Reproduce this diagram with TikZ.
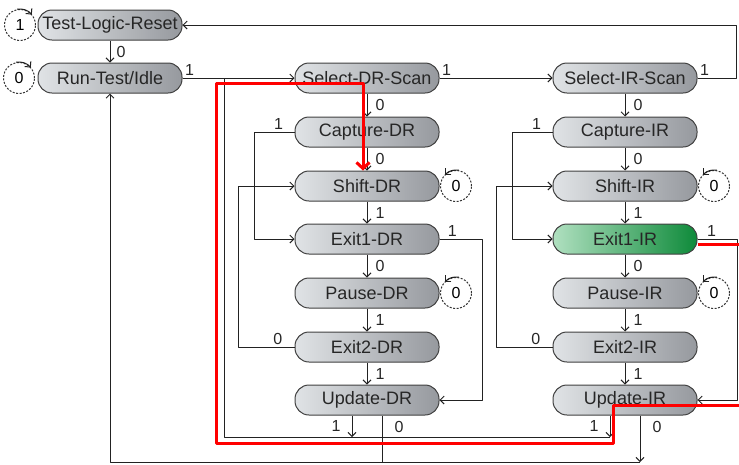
\documentclass[tikz,border=0pt]{standalone}
\usepackage{fontspec}
\setmainfont{Liberation Sans}
\usetikzlibrary{arrows.meta}

\definecolor{nodeL}{HTML}{E0E3E6}
\definecolor{nodeR}{HTML}{96999E}
\definecolor{greenL}{HTML}{B0E0C0}
\definecolor{greenR}{HTML}{0E8A3A}
\definecolor{lineC}{HTML}{222222}

\tikzset{
  jstate/.style={draw=black!75, rounded corners=14pt, minimum width=144pt,
    minimum height=30pt, inner sep=0pt, left color=nodeL, right color=nodeR,
    text=black!85, font=\fontsize{18}{21}\selectfont},
  jactive/.style={jstate, left color=greenL, right color=greenR},
  loopc/.style={draw=black!80, dash pattern=on 2pt off 1.5pt, circle,
    minimum size=31pt, inner sep=0pt, font=\fontsize{16}{19}\selectfont},
  lbl/.style={font=\fontsize{16}{19}\selectfont, inner sep=2pt, text=black!85},
  hl/.style={red, line width=3pt},
}

\begin{document}
\begin{tikzpicture}[x=1pt, y=-1pt, line join=round, line width=1pt, draw=lineC,
    >={Straight Barb[length=4pt,width=8pt]}]
    \useasboundingbox (0,0) rectangle (739,464);

    % 左列状态
    \node[jstate] (tlr) at (110,25) {Test-Logic-Reset};
    \node[jstate] (rti) at (110,78) {Run-Test/Idle};

    % DR 列
    \node[jstate] (sdr)  at (367,78)  {Select-DR-Scan};
    \node[jstate] (cdr)  at (367,132) {Capture-DR};
    \node[jstate] (shdr) at (367,186) {Shift-DR};
    \node[jstate] (e1dr) at (367,239) {Exit1-DR};
    \node[jstate] (pdr)  at (367,293) {Pause-DR};
    \node[jstate] (e2dr) at (367,347) {Exit2-DR};
    \node[jstate] (udr)  at (367,400) {Update-DR};

    % IR 列
    \node[jstate]  (sir)  at (625,78)  {Select-IR-Scan};
    \node[jstate]  (cir)  at (625,132) {Capture-IR};
    \node[jstate]  (shir) at (625,186) {Shift-IR};
    \node[jactive] (e1ir) at (625,239) {Exit1-IR};
    \node[jstate]  (pir)  at (625,293) {Pause-IR};
    \node[jstate]  (e2ir) at (625,347) {Exit2-IR};
    \node[jstate]  (uir)  at (625,400) {Update-IR};

    % 自环
    \node[loopc] (ltlr)  at (20,25)   {1};
    \node[loopc] (lrti)  at (19,78)   {0};
    \node[loopc] (lshdr) at (456,186) {0};
    \node[loopc] (lpdr)  at (456,293) {0};
    \node[loopc] (lshir) at (714,186) {0};
    \node[loopc] (lpir)  at (714,293) {0};
    \draw[->] (ltlr.100) arc[start angle=100, end angle=40, radius=15.5pt];
    \draw[->] (lrti.100) arc[start angle=100, end angle=40, radius=15.5pt];
    \draw[->] (lshdr.80) arc[start angle=80, end angle=135, radius=15.5pt];
    \draw[->] (lpdr.80)  arc[start angle=80, end angle=135, radius=15.5pt];
    \draw[->] (lshir.80) arc[start angle=80, end angle=135, radius=15.5pt];
    \draw[->] (lpir.80)  arc[start angle=80, end angle=135, radius=15.5pt];

    % 横向连线
    \draw[->] (tlr) -- node[lbl, right=4pt] {0} (rti);
    \draw[->] (rti) -- node[lbl, above right, pos=0] {1} (sdr);
    \draw[->] (sdr) -- node[lbl, above right, pos=0] {1} (sir);
    \draw[->] (sir.east) -- node[lbl, above right, pos=0] {1} ++(39,0) |- (tlr.east);

    % DR 列连线
    \draw[->] (sdr)  -- node[lbl, right=6pt] {0} (cdr);
    \draw[->] (cdr)  -- node[lbl, right=6pt] {0} (shdr);
    \draw[->] (shdr) -- node[lbl, right=6pt] {1} (e1dr);
    \draw[->] (e1dr) -- node[lbl, right=6pt] {0} (pdr);
    \draw[->] (pdr)  -- node[lbl, right=6pt] {1} (e2dr);
    \draw[->] (e2dr) -- node[lbl, right=6pt] {1} (udr);
    \draw[->] (cdr.west)  -- node[lbl, above, pos=.4] {1} ++(-40,0) |- (e1dr.west);
    \draw[->] (e2dr.west) -- node[lbl, above, pos=.3] {0} ++(-56,0) |- (shdr.west);
    \draw[->] (e1dr.east) -- node[lbl, above, pos=.3] {1} ++(43,0) |- (udr.east);

    % IR 列连线
    \draw[->] (sir)  -- node[lbl, right=6pt] {0} (cir);
    \draw[->] (cir)  -- node[lbl, right=6pt] {0} (shir);
    \draw[->] (shir) -- node[lbl, right=6pt] {1} (e1ir);
    \draw[->] (e1ir) -- node[lbl, right=6pt] {0} (pir);
    \draw[->] (pir)  -- node[lbl, right=6pt] {1} (e2ir);
    \draw[->] (e2ir) -- node[lbl, right=6pt] {1} (uir);
    \draw[->] (cir.west)  -- node[lbl, above, pos=.4] {1} ++(-40,0) |- (e1ir.west);
    \draw[->] (e2ir.west) -- node[lbl, above, pos=.3] {0} ++(-56,0) |- (shir.west);
    \draw[->] (e1ir.east) -- node[lbl, above, pos=.35] {1} ++(40,0) |- (uir.east);

    % Update 回到 Select-DR-Scan / Run-Test/Idle
    \coordinate (busA) at (224,437);
    \coordinate (busB) at (110,462);
    \draw[->] ([xshift=-15pt]udr.south) -- node[lbl, left=9pt] {1} ([xshift=-15pt]udr.south |- busA);
    \draw[->] ([xshift=-15pt]uir.south) -- node[lbl, left=9pt] {1} ([xshift=-15pt]uir.south |- busA);
    \draw ([xshift=-15pt]uir.south |- busA) -- (busA) -- (busA |- rti.east);
    \draw ([xshift=15pt]udr.south) -- node[lbl, right=10pt, pos=.25] {0} ([xshift=15pt]udr.south |- busB);
    \draw[->] ([xshift=15pt]uir.south) -- node[lbl, right=10pt, pos=.25] {0} ([xshift=15pt]uir.south |- busB);
    \draw[->] ([xshift=15pt]uir.south |- busB) -- (busB) -- (rti);

    % 红色路径
    \draw[hl, -{Straight Barb[length=6pt,width=13pt]}] ([yshift=-5pt]e1ir.east)
        -| (742,405) -| (613,443) -| (216,83) -| ([xshift=-4pt]shdr.north);
\end{tikzpicture}
\end{document}
